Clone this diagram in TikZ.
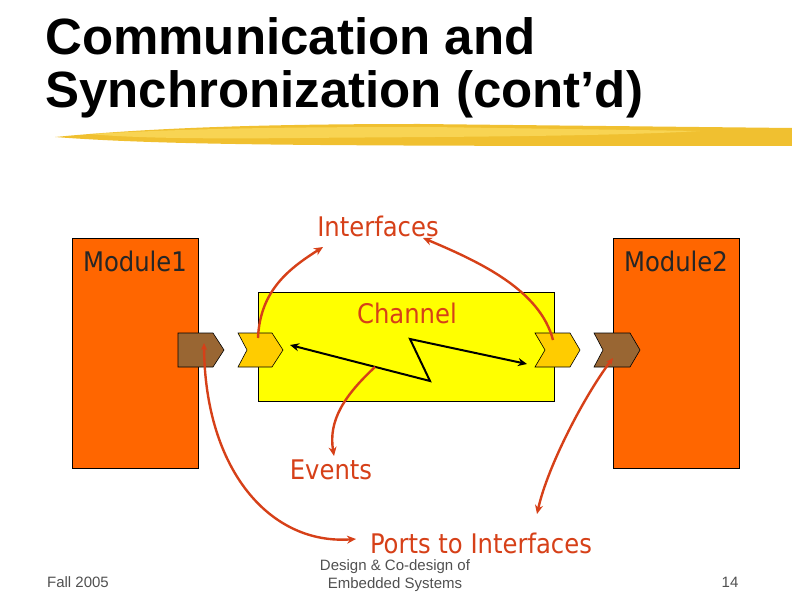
\documentclass[tikz,border=0pt]{standalone}
\usepackage{fontspec}
\setmainfont{DejaVu Sans Condensed}
\newfontfamily\slidefont{Liberation Sans}
\usetikzlibrary{arrows.meta}

\definecolor{moduleorange}{RGB}{255,102,0}
\definecolor{channelyellow}{RGB}{255,255,0}
\definecolor{ifaceyellow}{RGB}{255,204,0}
\definecolor{portbrown}{RGB}{153,102,51}
\definecolor{pointerred}{RGB}{214,64,24}
\definecolor{brushgold}{RGB}{240,192,48}
\definecolor{brushlight}{RGB}{250,218,92}
\definecolor{footgray}{RGB}{80,80,80}

\begin{document}
\begin{tikzpicture}[x=1pt, y=-1pt,
    module/.style={draw=black, fill=moduleorange, line width=0.7pt},
    channel box/.style={draw=black, fill=channelyellow, line width=0.7pt},
    iface/.style={draw=black, fill=ifaceyellow, line width=0.6pt},
    port/.style={draw=black, fill=portbrown, line width=0.6pt},
    block label/.style={font=\fontsize{27}{30}\selectfont, text=black!85, inner sep=1pt},
    note label/.style={font=\fontsize{27}{30}\selectfont, text=pointerred, inner sep=1pt},
    title text/.style={font=\slidefont\bfseries\fontsize{51}{53}\selectfont,
        anchor=base west, inner sep=0pt},
    foot text/.style={font=\slidefont\fontsize{15}{18}\selectfont, text=footgray,
        inner sep=0pt},
    pointer/.style={draw=pointerred, line width=2.4pt,
        -{Stealth[length=9pt, width=8pt]}},
    both pointer/.style={pointer, {Stealth[length=7pt, width=6pt]}-{Stealth[length=9pt, width=8pt]}},
    signal/.style={draw=black, line width=2pt, line join=miter,
        {Stealth[length=9pt, width=8pt]}-{Stealth[length=9pt, width=8pt]}}
]
    \path[use as bounding box] (0,0) rectangle (792,612);

    % Slide title and the brush stroke under it.
    \node[title text] (title1) at (45,55) {Communication and};
    \node[title text] (title2) at (45,108) {Synchronization (cont’d)};
    \fill[brushgold] (55,137) .. controls (150,128) and (260,124) .. (420,124)
        -- (792,128) -- (792,146) .. controls (600,146) and (450,146) .. (320,145)
        .. controls (200,144) and (120,142) .. cycle;
    \fill[brushlight, opacity=0.8] (90,134) .. controls (200,128) and (300,127) .. (430,127)
        -- (700,131) .. controls (600,137) and (400,137) .. (300,138)
        .. controls (200,139) and (130,138) .. cycle;

    % The two modules.
    \draw[module] (72,238) rectangle (198,468);
    \draw[module] (613,238) rectangle (739,468);
    \node[block label] (mod1) at (135,261) {Module1};
    \node[block label] (mod2) at (676,261) {Module2};

    % The channel with its interfaces.
    \draw[channel box] (258,292) rectangle (554,401);
    \node[note label] (chan) at (407,313) {Channel};
    \draw[iface] (238,333) -- (272,333) -- (283,350) -- (272,367) -- (238,367)
        -- (247,350) -- cycle;
    \draw[iface] (535,333) -- (570,333) -- (580,350) -- (570,367) -- (535,367)
        -- (545,350) -- cycle;

    % Ports of the modules.
    \draw[port] (178,333) -- (213,333) -- (224,350) -- (213,367) -- (178,367) -- cycle;
    \draw[port] (594,333) -- (630,333) -- (640,350) -- (630,367) -- (594,367)
        -- (603,350) -- cycle;

    % Zig-zag signal through the channel.
    \coordinate (sigL) at (290,345);
    \coordinate (zigA) at (430,381);
    \coordinate (zigB) at (410,339);
    \coordinate (sigR) at (527,364);
    \draw[signal] (sigL) -- (zigA) -- (zigB) -- (sigR);

    % Annotations.
    \node[note label] (ifaces) at (378,226) {Interfaces};
    \node[note label] (events) at (331,470) {Events};
    \node[note label] (ports) at (481,543) {Ports to Interfaces};

    \coordinate (ifaceL) at (258,338);
    \coordinate (ifaceR) at (553,340);
    \coordinate (evtSrc) at (375,367);
    \coordinate (portL) at (204,343);
    \coordinate (portR) at (613,358);
    \coordinate (ifacesL) at (323,247);
    \coordinate (ifacesR) at (423,238);
    \coordinate (eventsTop) at (334,456);
    \coordinate (portsL) at (356,539);
    \coordinate (portsR) at (537,514);

    \draw[pointer] (ifaceL) .. controls (260,290) and (290,268) .. (ifacesL);
    \draw[pointer] (ifaceR) .. controls (540,290) and (480,262) .. (ifacesR);
    \draw[pointer] (evtSrc) .. controls (345,395) and (328,420) .. (eventsTop);
    \draw[both pointer] (portL) .. controls (205,470) and (270,545) .. (portsL);
    \draw[both pointer] (portR) .. controls (585,395) and (548,465) .. (portsR);

    % Footer.
    \node[foot text] (term) at (78,582) {Fall 2005};
    \node[foot text, align=center] (course) at (395,576)
        {Design \& Co-design of\\Embedded Systems};
    \node[foot text] (page) at (730,582) {14};
\end{tikzpicture}
\end{document}
